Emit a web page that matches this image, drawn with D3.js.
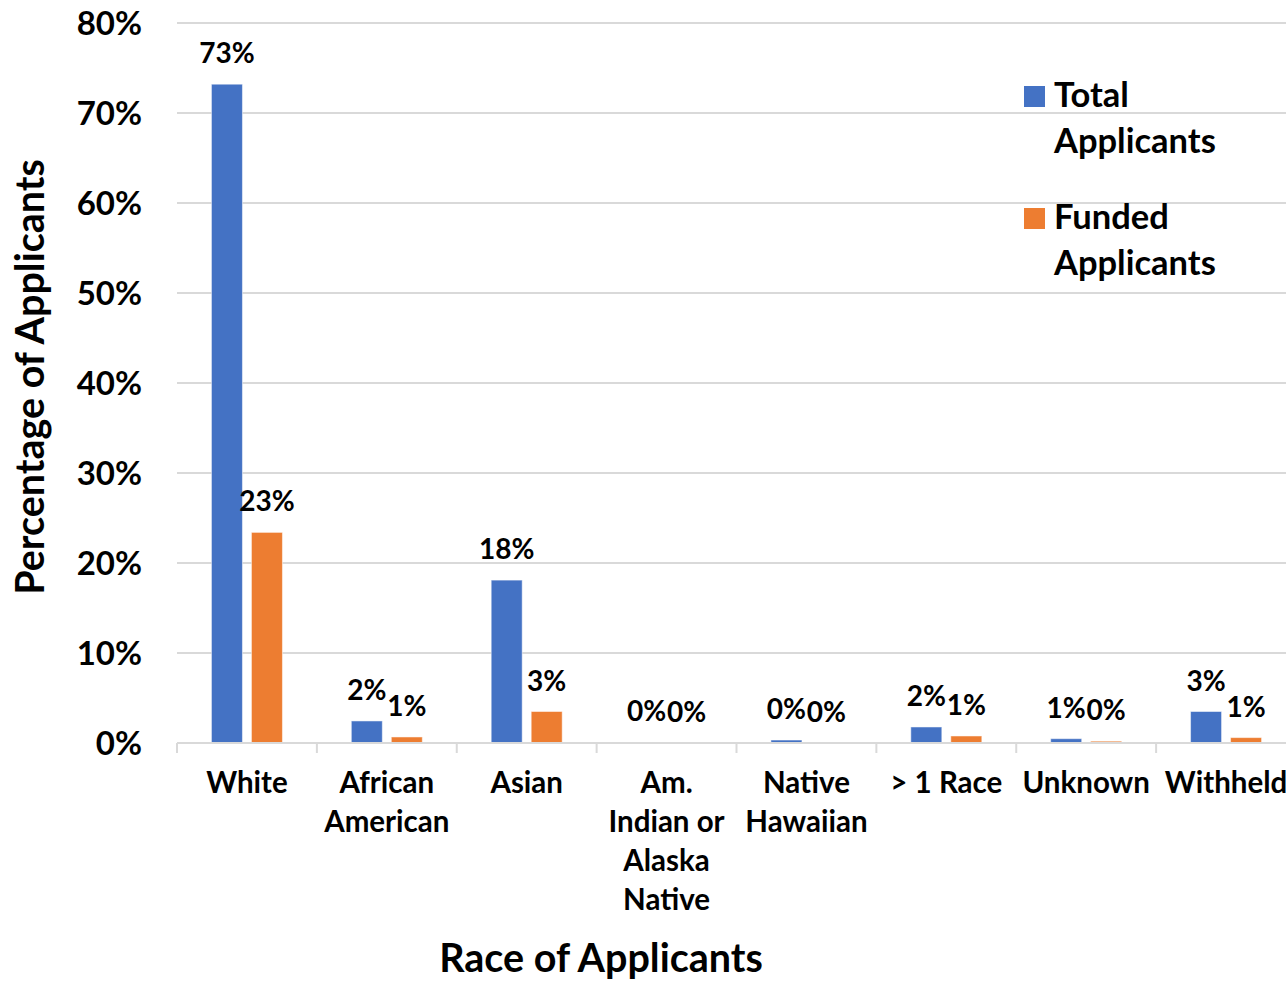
<!DOCTYPE html>
<html><head><meta charset="utf-8">
<script src="https://cdn.jsdelivr.net/npm/d3@7"></script>
<style>body{margin:0;background:#fff}svg{display:block}text{font-family:Lato,"Open Sans",sans-serif;font-weight:bold;fill:#000}</style>
</head><body><svg id="c" width="1286" height="982"></svg>
<script>
const categories = [["White"],["African","American"],["Asian"],["Am.","Indian or","Alaska","Native"],["Native","Hawaiian"],["> 1 Race"],["Unknown"],["Withheld"]];
const series = ["Total Applicants","Funded Applicants"];
const totalValues  = [73.2, 2.45, 18.1, 0.1, 0.33, 1.78, 0.48, 3.5];
const fundedValues = [23.4, 0.67, 3.5, 0.05, 0.05, 0.78, 0.2, 0.6];
const totalLabels  = ["73%","2%","18%","0%","0%","2%","1%","3%"];
const fundedLabels = ["23%","1%","3%","0%","0%","1%","0%","1%"];
const yTicks = [0,10,20,30,40,50,60,70,80];
const colors = ["#4472C4","#ED7D31"];

const svg = d3.select("#c");
const x0 = 177, x1 = 1296, yTop = 23, yBot = 743;
const x = d3.scaleBand().domain(d3.range(categories.length)).range([x0,x1]);
const y = d3.scaleLinear().domain([0,80]).range([yBot,yTop]);
const bw = 31, gap = 9;

// gridlines
svg.append("g").selectAll("line").data(yTicks.slice(1)).join("line")
  .attr("x1",x0).attr("x2",1286).attr("y1",d=>y(d)).attr("y2",d=>y(d))
  .attr("stroke","#d9d9d9").attr("stroke-width",2);

// y tick labels
svg.append("g").selectAll("text").data(yTicks).join("text")
  .attr("x",142).attr("y",d=>y(d)).attr("dy","0.36em").attr("text-anchor","end")
  .style("font-size","33px").text(d=>d+"%");

// bars
const data = [totalValues, fundedValues];
const labels = [totalLabels, fundedLabels];
data.forEach((vals,s)=>{
  const cx = i => x(i)+x.bandwidth()/2 + (s===0 ? -(gap/2+bw/2) : (gap/2+bw/2));
  svg.append("g").selectAll("rect").data(vals).join("rect")
    .attr("x",(d,i)=>cx(i)-bw/2).attr("width",bw)
    .attr("y",d=>y(d)).attr("height",d=>yBot-y(d))
    .attr("fill",colors[s]).attr("stroke","#fff").attr("stroke-opacity",0.5).attr("stroke-width",1);
  svg.append("g").selectAll("text").data(vals).join("text")
    .attr("x",(d,i)=>cx(i)).attr("y",d=>y(d)-21).attr("text-anchor","middle")
    .style("font-size","28px").text((d,i)=>labels[s][i]);
});

// x axis line and ticks
svg.append("line").attr("x1",x0).attr("x2",1286).attr("y1",yBot).attr("y2",yBot)
  .attr("stroke","#d9d9d9").attr("stroke-width",2);
svg.append("g").selectAll("line").data(d3.range(categories.length+1)).join("line")
  .attr("x1",i=>x0+i*x.step()).attr("x2",i=>x0+i*x.step()).attr("y1",yBot).attr("y2",yBot+10)
  .attr("stroke","#d9d9d9").attr("stroke-width",2);

// category labels
const cg = svg.append("g");
categories.forEach((lines,i)=>{
  const t = cg.append("text").attr("text-anchor","middle").style("font-size","29.5px");
  lines.forEach((l,k)=>t.append("tspan").attr("x",x(i)+x.bandwidth()/2).attr("y",793+k*39).text(l));
});

// axis titles
svg.append("text").attr("x",601).attr("y",972).attr("text-anchor","middle").style("font-size","39.5px").text("Race of Applicants");
svg.append("text").attr("transform","translate(44,377) rotate(-90)").attr("text-anchor","middle").style("font-size","39.5px").text("Percentage of Applicants");

// legend
const leg = svg.append("g");
const legLines = [["Total","Applicants"],["Funded","Applicants"]];
legLines.forEach((ls,s)=>{
  const by = 107 + s*122;
  leg.append("rect").attr("x",1024).attr("y",by-21).attr("width",21).attr("height",21).attr("fill",colors[s]);
  const t = leg.append("text").style("font-size","34.5px");
  ls.forEach((l,k)=>t.append("tspan").attr("x",1054).attr("y",by+k*46).text(l));
});
</script></body></html>
